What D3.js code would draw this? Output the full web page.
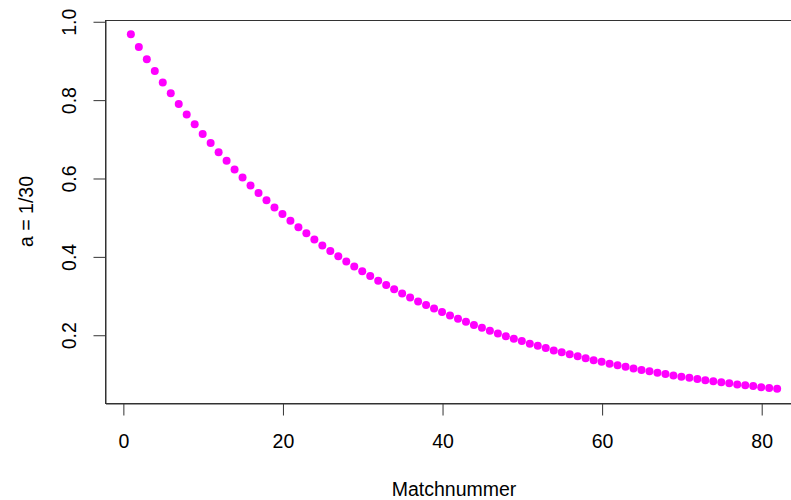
<!DOCTYPE html>
<html>
<head>
<meta charset="utf-8">
<script src="https://cdn.jsdelivr.net/npm/d3@7"></script>
<style>
  body { margin: 0; background: #fff; }
  svg { display: block; font-family: "Liberation Sans", Arial, sans-serif; }
  .axis text { font-size: 19.5px; fill: #000; }
  .axis path, .axis line { stroke: #333; }
  .title { font-size: 19.5px; fill: #000; }
</style>
</head>
<body>
<svg width="791" height="500"></svg>
<script>
// match number 1..82 and weight a = 1/30
const matchNr = d3.range(1, 83);
const weights = [
  0.967, 0.934, 0.903, 0.873, 0.844, 0.816, 0.789, 0.762, 0.737, 0.712,
  0.689, 0.666, 0.644, 0.622, 0.601, 0.581, 0.562, 0.543, 0.525, 0.508,
  0.491, 0.474, 0.459, 0.443, 0.428, 0.414, 0.400, 0.387, 0.374, 0.362,
  0.350, 0.338, 0.327, 0.316, 0.305, 0.295, 0.285, 0.276, 0.267, 0.258,
  0.249, 0.241, 0.233, 0.225, 0.218, 0.210, 0.203, 0.196, 0.190, 0.184,
  0.177, 0.172, 0.166, 0.160, 0.155, 0.150, 0.145, 0.140, 0.135, 0.131,
  0.126, 0.122, 0.118, 0.114, 0.110, 0.107, 0.103, 0.100, 0.096, 0.093,
  0.090, 0.087, 0.084, 0.081, 0.079, 0.076, 0.073, 0.071, 0.069, 0.066,
  0.064, 0.062
];
const xTicks = [0, 20, 40, 60, 80];
const yTicks = [0.2, 0.4, 0.6, 0.8, 1.0];

const data = matchNr.map((m, i) => ({ x: m, y: weights[i] }));

const svg = d3.select("svg");
const margin = { top: 20, left: 105 };
const w = 698, h = 383;

// R style: pad 4% on each side
const pad = (ext) => {
  const d = (ext[1] - ext[0]) * 0.04;
  return [ext[0] - d, ext[1] + d];
};

const x = d3.scaleLinear()
  .domain(pad(d3.extent(data, d => d.x)))
  .range([0, w]);

const y = d3.scaleLinear()
  .domain(pad(d3.extent(data, d => d.y)))
  .range([h, 0]);

const g = svg.append("g")
  .attr("transform", `translate(${margin.left}, ${margin.top})`);

g.append("rect")
  .attr("x", 0.5).attr("y", 0.5)
  .attr("width", w).attr("height", h)
  .attr("fill", "none")
  .attr("stroke", "#333");

const xAxis = g.append("g")
  .attr("class", "axis")
  .attr("transform", `translate(0.5, ${h + 0.5})`)
  .call(d3.axisBottom(x).tickValues(xTicks).tickSize(12).tickSizeOuter(0));
xAxis.select(".domain").attr("stroke", "none");
xAxis.selectAll("text")
  .attr("font-family", null).attr("font-size", null)
  .attr("y", 44).attr("dy", null);

const yAxis = g.append("g")
  .attr("class", "axis")
  .attr("transform", "translate(0.5, 0.5)")
  .call(d3.axisLeft(y).tickValues(yTicks).tickFormat(d3.format(".1f")).tickSize(12).tickSizeOuter(0));
yAxis.select(".domain").attr("stroke", "none");
yAxis.selectAll("text")
  .attr("font-family", null).attr("font-size", null)
  .attr("x", null).attr("dy", null)
  .attr("text-anchor", "middle")
  .attr("transform", "translate(-30, 0) rotate(-90)");

g.append("g")
  .selectAll("circle")
  .data(data)
  .join("circle")
    .attr("cx", d => x(d.x))
    .attr("cy", d => y(d.y))
    .attr("r", 4)
    .attr("fill", "#ff00ff");

svg.append("text")
  .attr("class", "title")
  .attr("x", margin.left + x(41.5))
  .attr("y", 496)
  .attr("text-anchor", "middle")
  .text("Matchnummer");

svg.append("text")
  .attr("class", "title")
  .attr("transform", `translate(33, ${margin.top + h / 2}) rotate(-90)`)
  .attr("text-anchor", "middle")
  .text("a = 1/30");
</script>
</body>
</html>
